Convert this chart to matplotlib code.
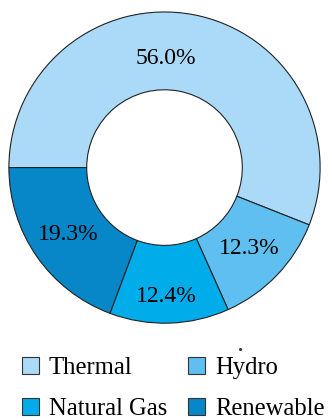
import matplotlib.pyplot as plt
from matplotlib.patches import Patch
from matplotlib.lines import Line2D

# generation mix
sources = ["Thermal", "Hydro", "Natural Gas", "Renewable"]
shares = [56.0, 12.3, 12.4, 19.3]
colors = ["#aadaf7", "#5ebff0", "#00acea", "#0786c8"]

plt.rcParams['font.family'] = ['Liberation Serif', 'DejaVu Serif']

fig = plt.figure(figsize=(3.32, 4.20), dpi=100)
ax = fig.add_axes([0.0265, 0.2305, 0.938, 0.741])

wedges, texts, pcts = ax.pie(
    shares, colors=colors, startangle=180, counterclock=False,
    autopct="%.1f%%", pctdistance=0.75,
    wedgeprops=dict(width=0.5, edgecolor="#222222", linewidth=0.8),
    textprops=dict(fontsize=17, color="black"),
)

# pull the big slice label to the top and the gas label lower
pcts[0].set_position((0.01, 0.70))
pcts[2].set_position((0.01, -0.83))

ax.set_xlim(-1, 1)
ax.set_ylim(-1, 1)
ax.set_aspect("equal")
ax.axis("off")

# legend fills column by column, so reorder to read row by row
order = [0, 2, 1, 3]
handles = [Patch(facecolor=colors[i], edgecolor="#333333", linewidth=0.8) for i in order]
labels = [sources[i] for i in order]
fig.legend(handles, labels, loc="upper left", bbox_to_anchor=(0.066, 0.15),
           ncol=2, frameon=False, fontsize=17.7, handlelength=0.69,
           handleheight=0.69, handletextpad=0.4, columnspacing=0.86,
           labelspacing=0.78, borderpad=0, borderaxespad=0)

# small speck above the legend
fig.add_artist(Line2D([240 / 332], [1 - 349 / 420], marker='o', ms=1.2,
                      color='#333333', transform=fig.transFigure))

fig.savefig("out.png", dpi=100)
